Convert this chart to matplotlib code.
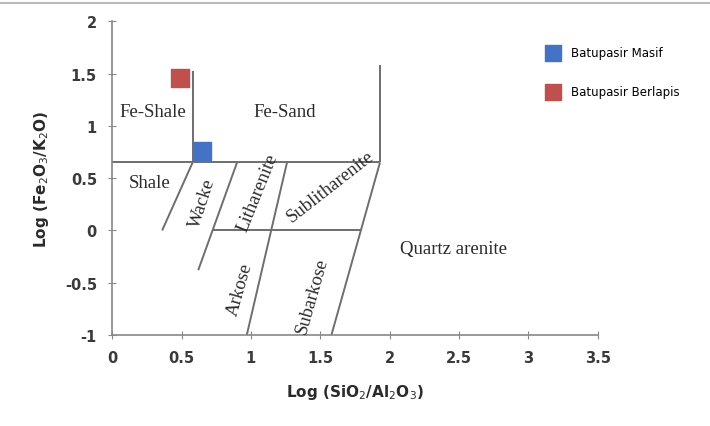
import matplotlib.pyplot as plt

# sample points
series_names = ['Batupasir Masif', 'Batupasir Berlapis']
series_x = [0.65, 0.49]
series_y = [0.76, 1.46]
series_colors = ['#4472c4', '#c0504d']

# classification boundaries (x list, y list)
boundaries = [
    ([0, 1.93], [0.65, 0.65]),
    ([0.58, 0.58], [0.65, 1.52]),
    ([1.93, 1.93], [0.65, 1.58]),
    ([0.58, 0.36], [0.65, 0.0]),
    ([0.90, 0.62], [0.65, -0.38]),
    ([1.26, 0.97], [0.65, -1.0]),
    ([1.93, 1.58], [0.65, -1.0]),
    ([0.72, 1.79], [0.0, 0.0]),
]

# field names: text, x, y, rotation
fields = [
    ('Fe-Shale', 0.29, 1.14, 0),
    ('Fe-Sand', 1.24, 1.14, 0),
    ('Shale', 0.27, 0.46, 0),
    ('Wacke', 0.65, 0.27, 72),
    ('Litharenite', 1.05, 0.37, 68),
    ('Sublitharenite', 1.57, 0.42, 38),
    ('Arkose', 0.92, -0.56, 74),
    ('Subarkose', 1.44, -0.62, 74),
    ('Quartz arenite', 2.46, -0.17, 0),
]

xticks = [0, 0.5, 1, 1.5, 2, 2.5, 3, 3.5]
yticks = [-1, -0.5, 0, 0.5, 1, 1.5, 2]

fig = plt.figure(figsize=(7.1, 4.27), dpi=100)
ax = fig.add_axes([0.158, 0.213, 0.684, 0.735])

for bx, by in boundaries:
    ax.plot(bx, by, color='#6e6e6e', lw=1.4, solid_capstyle='butt')

for name, x, y, c in zip(series_names, series_x, series_y, series_colors):
    ax.scatter(x, y, marker='s', s=150, color=c, label=name, zorder=3)

for txt, x, y, rot in fields:
    ax.text(x, y, txt, ha='center', va='center', rotation=rot,
            fontsize=13.5, family='Liberation Serif', color='#2a2a2a')

ax.set_xlim(0, 3.5)
ax.set_ylim(-1, 2)
ax.set_xticks(xticks)
ax.set_yticks(yticks)
ax.set_xticklabels([f'{t:g}' for t in xticks])
ax.set_yticklabels([f'{t:g}' for t in yticks])
ax.tick_params(direction='inout', length=6, color='#888888', labelsize=10.5,
               labelcolor='#3a3a3a', pad=8)
for lbl in ax.get_xticklabels() + ax.get_yticklabels():
    lbl.set_fontweight('bold')
for s in ['top', 'right']:
    ax.spines[s].set_visible(False)
for s in ['left', 'bottom']:
    ax.spines[s].set_color('#888888')
    ax.spines[s].set_linewidth(1.2)

ax.set_xlabel('Log (SiO$_2$/Al$_2$O$_3$)', fontsize=11, fontweight='bold',
              color='#2a2a2a', labelpad=12)
ax.set_ylabel('Log (Fe$_2$O$_3$/K$_2$O)', fontsize=11, fontweight='bold',
              color='#2a2a2a', labelpad=10)

ax.legend(loc='upper left', bbox_to_anchor=(0.862, 0.955), frameon=False,
          fontsize=8.5, markerscale=0.9, handletextpad=0.5, labelspacing=2.2)

fig.add_artist(plt.Line2D([0, 1], [0.99, 0.99], color='#bbbbbb', lw=1.5))

fig.savefig('out.png', dpi=100)
